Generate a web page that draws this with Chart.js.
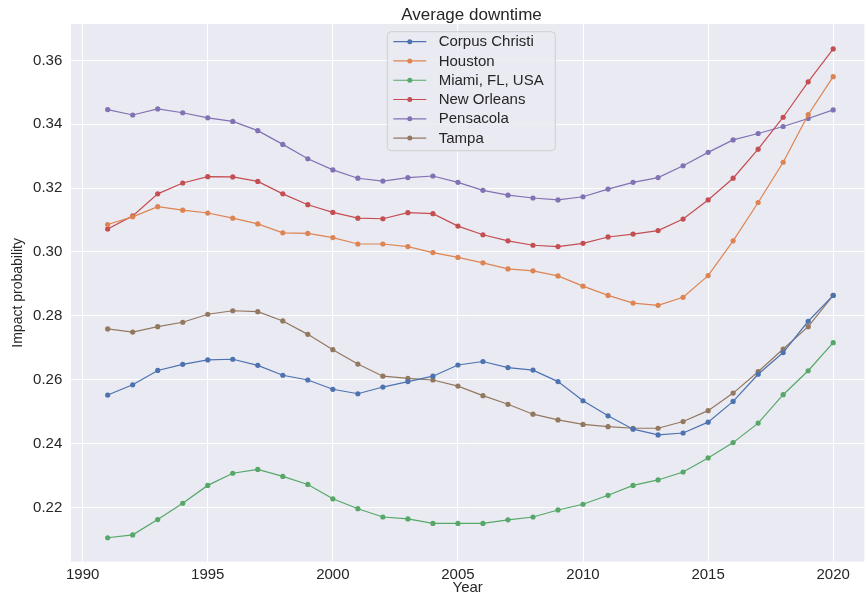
<!DOCTYPE html>
<html>
<head>
<meta charset="utf-8">
<title>Average downtime</title>
<script src="https://cdn.jsdelivr.net/npm/chart.js@4/dist/chart.umd.min.js"></script>
<style>
  html, body { margin: 0; padding: 0; background: #ffffff; overflow: hidden; }
  #wrap { width: 867px; height: 598px; }
</style>
</head>
<body>
<div id="wrap"><canvas id="chart" width="867" height="598"></canvas></div>
<script>
// Year categories
const years = [1991, 1992, 1993, 1994, 1995, 1996, 1997, 1998, 1999, 2000,
               2001, 2002, 2003, 2004, 2005, 2006, 2007, 2008, 2009, 2010,
               2011, 2012, 2013, 2014, 2015, 2016, 2017, 2018, 2019, 2020];

// Impact probability per city
const corpusChristi = [0.2552, 0.2584, 0.2629, 0.2648, 0.2662, 0.2664, 0.2645, 0.2614, 0.2599, 0.2570,
                       0.2556, 0.2577, 0.2594, 0.2611, 0.2646, 0.2657, 0.2638, 0.2630, 0.2594, 0.2534,
                       0.2487, 0.2445, 0.2427, 0.2433, 0.2467, 0.2532, 0.2617, 0.2685, 0.2783, 0.2864];
const houston = [0.3086, 0.3110, 0.3142, 0.3131, 0.3122, 0.3106, 0.3088, 0.3060, 0.3058, 0.3045,
                 0.3025, 0.3025, 0.3017, 0.2998, 0.2983, 0.2966, 0.2947, 0.2941, 0.2925, 0.2893,
                 0.2864, 0.2840, 0.2833, 0.2858, 0.2926, 0.3035, 0.3155, 0.3281, 0.3430, 0.3549];
const miami = [0.2105, 0.2114, 0.2162, 0.2213, 0.2269, 0.2307, 0.2319, 0.2297, 0.2272, 0.2227,
               0.2196, 0.2170, 0.2164, 0.2150, 0.2150, 0.2150, 0.2161, 0.2170, 0.2192, 0.2210,
               0.2238, 0.2269, 0.2286, 0.2311, 0.2355, 0.2403, 0.2464, 0.2553, 0.2628, 0.2716];
const newOrleans = [0.3072, 0.3113, 0.3182, 0.3216, 0.3236, 0.3235, 0.3221, 0.3182, 0.3148, 0.3124,
                    0.3106, 0.3104, 0.3123, 0.3120, 0.3081, 0.3054, 0.3035, 0.3021, 0.3017, 0.3027,
                    0.3047, 0.3056, 0.3067, 0.3103, 0.3163, 0.3231, 0.3322, 0.3422, 0.3533, 0.3636];
const pensacola = [0.3446, 0.3429, 0.3448, 0.3436, 0.3420, 0.3409, 0.3380, 0.3337, 0.3292, 0.3257,
                   0.3231, 0.3222, 0.3233, 0.3238, 0.3218, 0.3193, 0.3178, 0.3169, 0.3163, 0.3173,
                   0.3197, 0.3218, 0.3233, 0.3270, 0.3312, 0.3351, 0.3371, 0.3393, 0.3418, 0.3445];
const tampa = [0.2759, 0.2749, 0.2766, 0.2780, 0.2805, 0.2816, 0.2813, 0.2784, 0.2742, 0.2694,
               0.2649, 0.2611, 0.2604, 0.2599, 0.2580, 0.2550, 0.2523, 0.2492, 0.2474, 0.2460,
               0.2453, 0.2448, 0.2448, 0.2469, 0.2503, 0.2558, 0.2625, 0.2696, 0.2766, 0.2864];

// Series names, title and tick labels
const chartTitle = 'Average downtime';
const seriesNames = ['Corpus Christi', 'Houston', 'Miami, FL, USA', 'New Orleans', 'Pensacola', 'Tampa'];
const xTicks = [1990, 1995, 2000, 2005, 2010, 2015, 2020];
const yTicks = [0.22, 0.24, 0.26, 0.28, 0.30, 0.32, 0.34, 0.36];

const seriesValues = [corpusChristi, houston, miami, newOrleans, pensacola, tampa];
const palette = ['#4C72B0', '#DD8452', '#55A868', '#C44E52', '#8172B3', '#937860'];

const FONT = '"Liberation Sans", Arial, Helvetica, sans-serif';
const TEXT = '#262626';

// Grey plotting panel behind the grid
const panelBackground = {
  id: 'panelBackground',
  beforeDraw(chart) {
    const { ctx, chartArea: a } = chart;
    ctx.save();
    ctx.fillStyle = '#EAEAF2';
    ctx.fillRect(a.left, a.top, a.right - a.left, a.bottom - a.top);
    ctx.restore();
  }
};

// Title centred over the plotting panel
const panelTitle = {
  id: 'panelTitle',
  afterDraw(chart) {
    const { ctx, chartArea: a } = chart;
    ctx.save();
    ctx.font = '17px ' + FONT;
    ctx.fillStyle = TEXT;
    ctx.textAlign = 'center';
    ctx.textBaseline = 'alphabetic';
    ctx.fillText(chartTitle, (a.left + 872) / 2, 20);
    ctx.restore();
  }
};

// Framed legend drawn inside the plotting panel
const insetLegend = {
  id: 'insetLegend',
  afterDatasetsDraw(chart) {
    const { ctx, chartArea: a } = chart;
    const sets = chart.data.datasets;
    const w = 168, rowH = 19.27, h = 119;
    const x = 387.3, y = a.top + 7.7;
    ctx.save();
    ctx.beginPath();
    ctx.roundRect(x, y, w, h, 4);
    ctx.fillStyle = 'rgba(234,234,242,0.8)';
    ctx.fill();
    ctx.lineWidth = 1;
    ctx.strokeStyle = 'rgba(204,204,204,0.9)';
    ctx.stroke();
    ctx.font = '15px ' + FONT;
    ctx.textBaseline = 'middle';
    ctx.textAlign = 'left';
    sets.forEach((ds, i) => {
      const cy = y + 10 + i * rowH;
      ctx.strokeStyle = ds.borderColor;
      ctx.lineWidth = 1.2;
      ctx.beginPath();
      ctx.moveTo(x + 6, cy);
      ctx.lineTo(x + 39, cy);
      ctx.stroke();
      ctx.fillStyle = ds.borderColor;
      ctx.beginPath();
      ctx.arc(x + 22.5, cy, 2.5, 0, Math.PI * 2);
      ctx.fill();
      ctx.fillStyle = TEXT;
      ctx.fillText(ds.label, x + 51.4, cy + 0.5);
    });
    ctx.restore();
  }
};

const datasets = seriesNames.map((name, i) => ({
  label: name,
  data: years.map((yr, j) => ({ x: yr, y: seriesValues[i][j] })),
  borderColor: palette[i],
  backgroundColor: palette[i],
  borderWidth: 1.2,
  pointRadius: 2.6,
  pointHoverRadius: 2.6,
  pointBorderWidth: 0,
  tension: 0
}));

new Chart(document.getElementById('chart'), {
  type: 'line',
  data: { datasets },
  options: {
    responsive: false,
    animation: false,
    devicePixelRatio: 1,
    layout: { padding: { top: 24, left: 0, right: 0, bottom: 0 } },
    plugins: {
      legend: { display: false },
      tooltip: { enabled: false },
      title: { display: false }
    },
    scales: {
      x: {
        type: 'linear',
        min: 1989.534,
        max: 2021.247,
        afterBuildTicks(scale) { scale.ticks = xTicks.map(v => ({ value: v })); },
        afterFit(scale) {
          scale.height = 36.3;
          scale.paddingLeft = 0;
          scale.paddingRight = 0;
        },
        grid: { color: '#ffffff', lineWidth: 1, drawTicks: false, tickLength: 0 },
        border: { display: false },
        ticks: {
          color: TEXT,
          font: { family: FONT, size: 15 },
          padding: 4,
          maxRotation: 0,
          autoSkip: false,
          callback: v => String(v)
        },
        title: {
          display: true,
          text: 'Year',
          color: TEXT,
          font: { family: FONT, size: 15 },
          padding: { top: 0, bottom: 1.2 }
        }
      },
      y: {
        min: 0.2030,
        max: 0.3714,
        afterBuildTicks(scale) { scale.ticks = yTicks.map(v => ({ value: v })); },
        afterFit(scale) {
          scale.width = 71;
          scale.paddingTop = 0;
          scale.paddingBottom = 0;
        },
        grid: { color: '#ffffff', lineWidth: 1, drawTicks: false, tickLength: 0 },
        border: { display: false },
        ticks: {
          color: TEXT,
          font: { family: FONT, size: 15 },
          padding: 8.7,
          autoSkip: false,
          callback: v => v.toFixed(2)
        },
        title: {
          display: true,
          text: 'Impact probability',
          color: TEXT,
          font: { family: FONT, size: 14 },
          padding: { top: 9.6, bottom: 0 }
        }
      }
    }
  },
  plugins: [panelBackground, panelTitle, insetLegend]
});
</script>
</body>
</html>
